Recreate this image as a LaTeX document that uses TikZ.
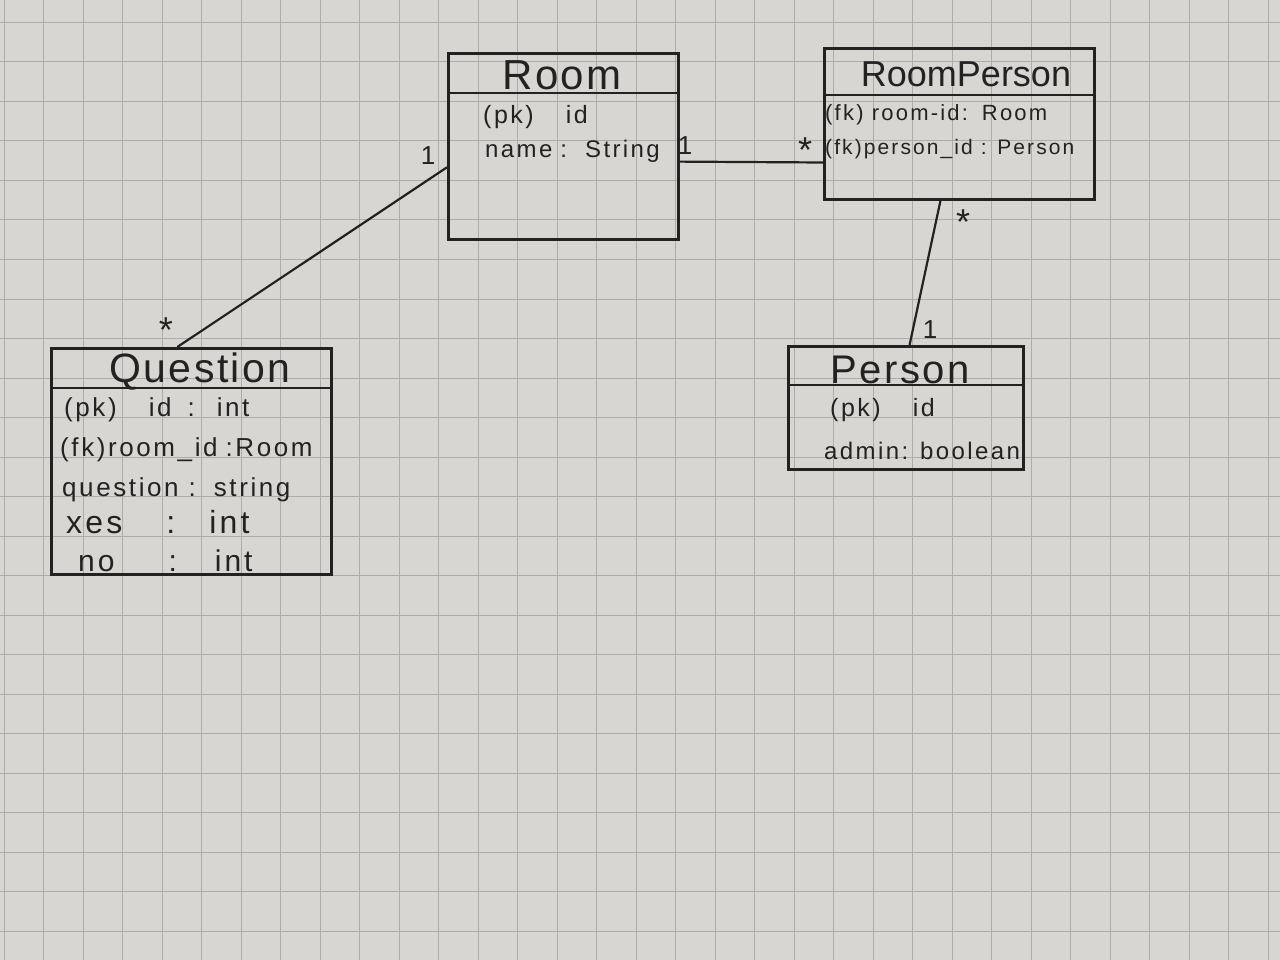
\documentclass[tikz,border=0pt]{standalone}
\usepackage{fontspec}
\setmainfont{Liberation Sans}
\newfontfamily\hand[LetterSpace=10]{Liberation Sans}
\newfontfamily\handt[LetterSpace=6]{Liberation Sans}
\usetikzlibrary{calc}
\definecolor{paper}{HTML}{D7D6D3}
\definecolor{gridc}{HTML}{ADACA9}
\definecolor{ink}{HTML}{222222}
\tikzset{
  umlbox/.style={draw=ink, line width=3pt, inner sep=0pt, anchor=north west},
  conn/.style={draw=ink, line width=2.2pt},
  hdr/.style={draw=ink, line width=2.6pt},
  ttl/.style={text=ink, inner sep=0pt, anchor=center},
  attr/.style={text=ink, inner sep=0pt, anchor=west},
  mult/.style={text=ink, inner sep=0pt, anchor=center, font=\fontsize{26}{28}\selectfont},
  star/.style={text=ink, inner sep=0pt, anchor=center, font=\fontsize{36}{38}\selectfont}
}
\begin{document}
\begin{tikzpicture}[x=1pt,y=-1pt]
\useasboundingbox (0,0) rectangle (1280,960);
\fill[paper] (0,0) rectangle (1280,960);
% grid paper
\foreach \i in {0,...,32} {
  \draw[gridc, line width=1pt] ({4+39.5*\i},0) -- ({4+39.5*\i},960);
}
\foreach \j in {0,...,24} {
  \draw[gridc, line width=1pt] (0,{22.5+39.5*\j}) -- (1280,{22.5+39.5*\j});
}
% boxes
\node[umlbox, minimum width=230pt, minimum height=186pt] (room) at (447,52) {};
\node[umlbox, minimum width=270pt, minimum height=151pt] (rp) at (823,47) {};
\node[umlbox, minimum width=280pt, minimum height=226pt] (question) at (50,347) {};
\node[umlbox, minimum width=235pt, minimum height=123pt] (person) at (787,345) {};
% header separators
\draw[hdr] ($(room.north west)+(0,41)$) -- ($(room.north east)+(0,41)$);
\draw[hdr] ($(rp.north west)+(0,48)$) -- ($(rp.north east)+(0,48)$);
\draw[hdr] ($(question.north west)+(0,41)$) -- ($(question.north east)+(0,41)$);
\draw[hdr] ($(person.north west)+(0,40)$) -- ($(person.north east)+(0,40)$);
% titles
\node[ttl, font=\handt\fontsize{42}{46}\selectfont] (roomT) at (562,75) {Room};
\node[ttl, font=\fontsize{36}{40}\selectfont] (rpT) at (966,74) {RoomPerson};
\node[ttl, font=\handt\fontsize{41}{44}\selectfont] (questionT) at (200,372) {Question};
\node[ttl, font=\handt\fontsize{40}{44}\selectfont] (personT) at (900,370) {Person};
% attributes
\node[attr, font=\hand\fontsize{25}{28}\selectfont] (r1) at (483,117) {(pk)\hspace{32pt}id};
\node[attr, font=\hand\fontsize{24}{28}\selectfont] (r2) at (485,151) {name\hspace{8pt}:\hspace{18pt}String};
\node[attr, font=\hand\fontsize{22}{24}\selectfont] (rp1) at (825,115) {(fk) room-id:\hspace{14pt}Room};
\node[attr, font=\hand\fontsize{21}{24}\selectfont] (rp2) at (825,149) {(fk)person\_id : Person};
\node[attr, font=\hand\fontsize{26}{28}\selectfont] (q1) at (64,410) {(pk)\hspace{32pt}id\hspace{16pt}:\hspace{22pt}int};
\node[attr, font=\hand\fontsize{26}{28}\selectfont] (q2) at (60,450) {(fk)room\_id\hspace{8pt}:Room};
\node[attr, font=\hand\fontsize{26}{28}\selectfont] (q3) at (62,490) {question\hspace{10pt}:\hspace{18pt}string};
\node[attr, font=\hand\fontsize{32}{34}\selectfont] (q4) at (66,522) {xes\hspace{44pt}:\hspace{34pt}int};
\node[attr, font=\hand\fontsize{30}{32}\selectfont] (q5) at (78,561) {no\hspace{54pt}:\hspace{38pt}int};
\node[attr, font=\hand\fontsize{25}{28}\selectfont] (p1) at (830,410) {(pk)\hspace{32pt}id};
\node[attr, font=\hand\fontsize{24}{26}\selectfont] (p2) at (824,451) {admin:\hspace{12pt}boolean};
% connectors
\draw[conn] ($(room.north west)!0.61!(room.south west)$) -- ($(question.north west)!0.45!(question.north east)$);
\draw[conn] ($(room.north east)!0.58!(room.south east)$) -- ($(rp.north west)!0.75!(rp.south west)$);
\draw[conn] ($(rp.south west)!0.43!(rp.south east)$) -- ($(person.north west)!0.515!(person.north east)$);
% multiplicities
\node[mult] (m1) at (428,156) {1};
\node[star] (m2) at (166,330) {*};
\node[mult] (m3) at (685,146) {1};
\node[star] (m4) at (805,150) {*};
\node[star] (m5) at (963,222) {*};
\node[mult] (m6) at (930,330) {1};
\end{tikzpicture}
\end{document}
